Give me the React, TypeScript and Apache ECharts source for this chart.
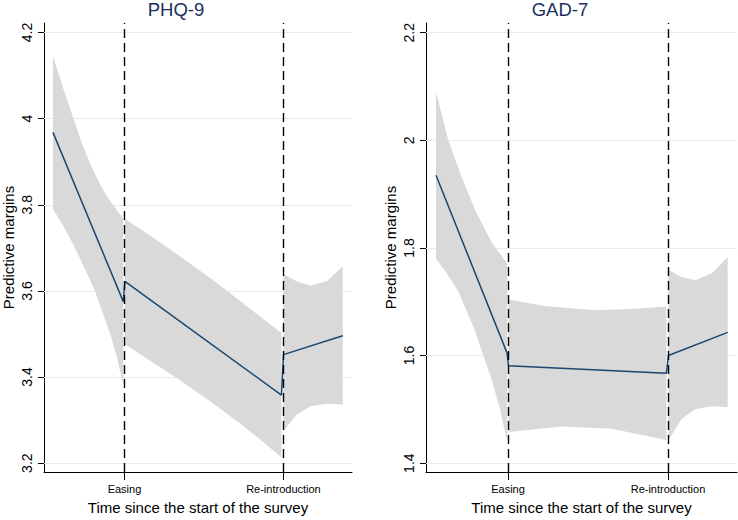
import React, { useEffect, useRef } from "react";
import * as echarts from "echarts";

// ---- data ----
const eventTicks = [9, 29];
const eventNames = ["Easing", "Re-introduction"];

const phqTicks = [3.2, 3.4, 3.6, 3.8, 4.0, 4.2];
const gadTicks = [1.4, 1.6, 1.8, 2.0, 2.2];

const phqLine: number[][] = [[0, 3.968], [8.85, 3.575], [9.05, 3.622], [28.75, 3.358], [29.0, 3.452], [36.46, 3.496]];
const gadLine: number[][] = [[0, 1.935], [8.9, 1.604], [9.05, 1.581], [28.8, 1.567], [29.05, 1.6], [36.46, 1.643]];

const phqUpper1 = [[0, 4.146], [1.3, 4.07], [2.58, 4.0], [3.7, 3.94], [4.875, 3.887], [6.0, 3.845], [6.96, 3.815], [8.85, 3.767]];
const phqLower1 = [[0, 3.79], [1.4, 3.748], [2.79, 3.699], [4.0, 3.652], [5.29, 3.6], [7.16, 3.502], [8.0, 3.45], [8.85, 3.381]];
const phqUpper2 = [[9.05, 3.767], [12.4, 3.726], [15.7, 3.684], [20.0, 3.627], [24.0, 3.57], [28.75, 3.502]];
const phqLower2 = [[9.05, 3.476], [15.7, 3.396], [20.0, 3.341], [24.0, 3.286], [28.75, 3.214]];
const phqUpper3 = [[29.0, 3.639], [30.7, 3.622], [32.4, 3.612], [34.5, 3.623], [36.46, 3.657]];
const phqLower3 = [[29.0, 3.275], [30.7, 3.313], [32.4, 3.332], [34.5, 3.338], [36.46, 3.336]];

const gadUpper1 = [[0, 2.09], [1.54, 2.0], [3.2, 1.932], [4.875, 1.871], [6.96, 1.81], [8.9, 1.771]];
const gadLower1 = [[0, 1.78], [1.4, 1.752], [2.79, 1.719], [4.875, 1.646], [6.96, 1.555], [8.0, 1.5], [8.9, 1.44]];
const gadUpper2 = [[9.05, 1.704], [13.6, 1.692], [19.9, 1.684], [24.9, 1.687], [28.8, 1.691]];
const gadLower2 = [[9.05, 1.458], [15.7, 1.468], [21.96, 1.464], [28.8, 1.443]];
const gadUpper3 = [[29.05, 1.759], [30.7, 1.746], [32.4, 1.74], [34.5, 1.753], [36.46, 1.783]];
const gadLower3 = [[29.05, 1.443], [30.7, 1.482], [32.4, 1.5], [34.5, 1.506], [36.46, 1.504]];

const phqBands = [
  { upper: phqUpper1, lower: phqLower1 },
  { upper: phqUpper2, lower: phqLower2 },
  { upper: phqUpper3, lower: phqLower3 },
];
const gadBands = [
  { upper: gadUpper1, lower: gadLower1 },
  { upper: gadUpper2, lower: gadLower2 },
  { upper: gadUpper3, lower: gadLower3 },
];

const FONT = "Liberation Sans, Arial, sans-serif";
const LINE = "#1a476f";
const BAND = "#d9d9d9";
const GRIDC = "#e4eef1";
const TITLE = "#1a2f5e";

function fmt(v: number) {
  return String(Number(v.toFixed(2)));
}

function xAxisFor(idx: number, min: number, max: number) {
  return {
    type: "value",
    gridIndex: idx,
    min,
    max,
    name: "Time since the start of the survey",
    nameLocation: "middle",
    nameGap: 28,
    nameTextStyle: { fontFamily: FONT, fontSize: 15, color: "#000" },
    axisLine: { show: true, onZero: false, lineStyle: { color: "#000", width: 1 } },
    axisTick: { show: true, length: 8, customValues: eventTicks, lineStyle: { color: "#000", width: 1 } },
    axisLabel: {
      customValues: eventTicks,
      margin: 11,
      fontFamily: FONT,
      fontSize: 11,
      color: "#000",
      formatter: (v: number) => eventNames[eventTicks.indexOf(Math.round(v))] ?? "",
    },
    splitLine: { show: false },
  };
}

function yAxisFor(idx: number, min: number, max: number, ticks: number[]) {
  return {
    type: "value",
    gridIndex: idx,
    min,
    max,
    name: "Predictive margins",
    nameLocation: "middle",
    nameGap: 28,
    nameTextStyle: { fontFamily: FONT, fontSize: 15, color: "#000" },
    axisLine: { show: true, onZero: false, lineStyle: { color: "#000", width: 1 } },
    axisTick: { show: true, length: 6, customValues: ticks, lineStyle: { color: "#000", width: 1 } },
    axisLabel: {
      customValues: ticks,
      rotate: 90,
      margin: 10,
      fontFamily: FONT,
      fontSize: 14,
      color: "#000",
      formatter: (v: number) => fmt(v),
    },
    splitLine: { show: false },
  };
}

function seriesFor(idx: number, line: number[][], bands: { upper: number[][]; lower: number[][] }[], ticks: number[]) {
  return [
    {
      type: "line",
      xAxisIndex: idx,
      yAxisIndex: idx,
      data: [[0, ticks[0]]],
      symbol: "none",
      lineStyle: { opacity: 0 },
      silent: true,
      z: 1,
      markLine: {
        z: 1,
        silent: true,
        symbol: ["none", "none"],
        label: { show: false },
        lineStyle: { type: "solid", color: GRIDC, width: 1 },
        data: ticks.map((v) => ({ yAxis: v })),
      },
    },
    {
      type: "custom",
      xAxisIndex: idx,
      yAxisIndex: idx,
      silent: true,
      z: 2,
      data: bands.map((b, i) => [b.upper[0][0], b.upper[0][1], i]),
      renderItem: (params: any, api: any) => {
        const b = bands[params.dataIndex];
        const pts = [
          ...b.upper.map((p) => api.coord(p)),
          ...b.lower.slice().reverse().map((p) => api.coord(p)),
        ];
        return { type: "polygon", shape: { points: pts }, style: { fill: BAND, stroke: null } };
      },
    },
    {
      type: "line",
      xAxisIndex: idx,
      yAxisIndex: idx,
      data: line,
      symbol: "none",
      z: 3,
      lineStyle: { color: LINE, width: 1.5 },
      markLine: {
        z: 4,
        silent: true,
        symbol: ["none", "none"],
        label: { show: false },
        lineStyle: { type: [9, 5], color: "#000", width: 1.4 },
        data: eventTicks.map((v) => ({ xAxis: v })),
      },
    },
  ];
}

export default function App() {
  const ref = useRef<HTMLDivElement>(null);
  useEffect(() => {
    if (!ref.current) return;
    const chart = echarts.init(ref.current, undefined, { renderer: "svg" });
    chart.setOption({
      animation: false,
      backgroundColor: "#fff",
      title: [
        { text: "PHQ-9", left: 176, top: 0, padding: 0, textAlign: "center", textStyle: { fontFamily: FONT, fontSize: 18.5, fontWeight: "normal", color: TITLE } },
        { text: "GAD-7", left: 560, top: 0, padding: 0, textAlign: "center", textStyle: { fontFamily: FONT, fontSize: 18.5, fontWeight: "normal", color: TITLE } },
      ],
      grid: [
        { left: 42, right: 386, top: 23, bottom: 39, containLabel: false },
        { left: 426, right: 1, top: 23, bottom: 39, containLabel: false },
      ],
      xAxis: [xAxisFor(0, -1.125, 37.625), xAxisFor(1, -1.25, 37.625)],
      yAxis: [yAxisFor(0, 3.1795, 4.222, phqTicks), yAxisFor(1, 1.3836, 2.218, gadTicks)],
      series: [...seriesFor(0, phqLine, phqBands, phqTicks), ...seriesFor(1, gadLine, gadBands, gadTicks)],
    });
    return () => chart.dispose();
  }, []);
  return <div ref={ref} style={{ position: "fixed", left: 0, top: 0, width: 738, height: 520 }} />;
}
